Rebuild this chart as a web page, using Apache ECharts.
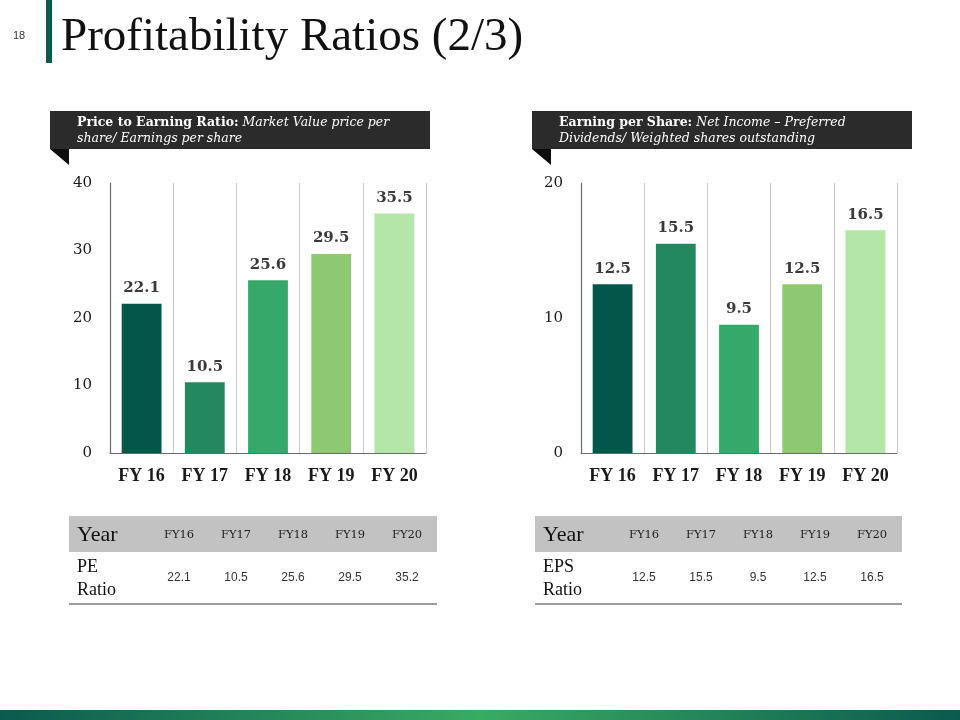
<!DOCTYPE html>
<html><head><meta charset="utf-8">
<script src="https://cdn.jsdelivr.net/npm/echarts@6/dist/echarts.min.js"></script>
<style>html,body{margin:0;padding:0;background:#fff}#c{width:960px;height:720px}</style>
</head><body><div id="c"></div>
<script>
const categories = ['FY 16','FY 17','FY 18','FY 19','FY 20'];
const tableYears = ['FY16','FY17','FY18','FY19','FY20'];
const peValues = [22.1, 10.5, 25.6, 29.5, 35.5];
const epsValues = [12.5, 15.5, 9.5, 12.5, 16.5];
const peTable = ['22.1','10.5','25.6','29.5','35.2'];
const epsTable = ['12.5','15.5','9.5','12.5','16.5'];
const barColors = ['#04564B','#238760','#36A96A','#8FC873','#B5E6A9'];
const peTicks = {min:0, max:40, interval:10};
const epsTicks = {min:0, max:20, interval:10};

const SERIF = '"Liberation Serif","DejaVu Serif",serif';
const WSERIF = '"DejaVu Serif","Liberation Serif",serif';
const SANS = '"Liberation Sans",Arial,sans-serif';

const chart = echarts.init(document.getElementById('c'));

function xAxis(gi){
  return {type:'category', gridIndex:gi, data:categories, boundaryGap:true,
    axisLine:{lineStyle:{color:'#6b6b6b',width:1.2}}, axisTick:{show:false},
    splitLine:{show:true, lineStyle:{color:'#c8c8c8',width:1}},
    axisLabel:{color:'#1a1a1a', fontFamily:SERIF, fontWeight:'bold', fontSize:18, margin:14}};
}
function yAxis(gi, t){
  return {type:'value', gridIndex:gi, min:t.min, max:t.max, interval:t.interval,
    axisLine:{show:true, lineStyle:{color:'#6b6b6b',width:1.2}}, axisTick:{show:false},
    splitLine:{show:false},
    axisLabel:{color:'#1a1a1a', fontFamily:WSERIF, fontSize:15, margin:18}};
}
function series(gi, vals){
  return {type:'bar', xAxisIndex:gi, yAxisIndex:gi, barWidth:'63%',
    data: vals.map((v,i)=>({value:v, itemStyle:{color:barColors[i]}})),
    label:{show:true, position:'top', distance:8, color:'#3a3a3a', fontFamily:WSERIF, fontWeight:'bold', fontSize:15}};
}

function header(x, y, w, bold, line1, line2){
  return [
    {type:'rect', shape:{x:x, y:y, width:w, height:38}, style:{fill:'#2b2b2b'}},
    {type:'polygon', shape:{points:[[x,y+38],[x+19,y+38],[x+19,y+54]]}, style:{fill:'#0d0d0d'}},
    {type:'text', x:x+27, y:y+4, style:{
      text:'{b|'+bold+'} {i|'+line1+'}\n{i|'+line2+'}',
      fontFamily:WSERIF, fontSize:12.5, lineHeight:16, fill:'#fff',
      rich:{b:{fontFamily:WSERIF, fontWeight:'bold', fontSize:12.5, fill:'#fff', lineHeight:16},
            i:{fontFamily:WSERIF, fontStyle:'italic', fontSize:12.5, fill:'#fff', lineHeight:16}}}}
  ];
}

function table(x, w, c0, rowLabel, vals){
  const els = [
    {type:'rect', shape:{x:x, y:516, width:w, height:36}, style:{fill:'#c2c2c2'}},
    {type:'text', x:x+8, y:535, style:{text:'Year', fontFamily:SERIF, fontSize:22, fill:'#111', verticalAlign:'middle'}},
    {type:'text', x:x+8, y:579, style:{text:rowLabel, fontFamily:SERIF, fontSize:18, lineHeight:23, fill:'#111', verticalAlign:'middle'}},
    {type:'line', shape:{x1:x, y1:604, x2:x+w, y2:604}, style:{stroke:'#7a7a7a', lineWidth:1.5}}
  ];
  tableYears.forEach((t,i)=>{
    els.push({type:'text', x:c0+i*57, y:535, style:{text:t, fontFamily:WSERIF, fontSize:11.5, fill:'#222', align:'center', verticalAlign:'middle'}});
    els.push({type:'text', x:c0+i*57, y:578, style:{text:vals[i], fontFamily:SANS, fontSize:12, fill:'#333', align:'center', verticalAlign:'middle'}});
  });
  return els;
}

const graphics = [
  {type:'rect', shape:{x:46, y:0, width:6, height:63}, style:{fill:'#0b5a4e'}},
  {type:'text', x:13, y:36, style:{text:'18', fontFamily:SANS, fontSize:11, fill:'#333', verticalAlign:'middle'}},
  {type:'text', x:61, y:38, style:{text:'Profitability Ratios (2/3)', fontFamily:SERIF, fontSize:47, fill:'#111', verticalAlign:'middle'}},
  {type:'rect', shape:{x:0, y:710, width:960, height:10}, style:{fill:new echarts.graphic.LinearGradient(0,0,1,0,[
    {offset:0,color:'#0b5a4e'},{offset:0.5,color:'#3aab63'},{offset:1,color:'#0b5a4e'}])}},
  ...header(50, 111, 380, 'Price to Earning Ratio:', 'Market Value price per', 'share/ Earnings per share'),
  ...header(532, 111, 380, 'Earning per Share:', 'Net Income \u2013 Preferred', 'Dividends/ Weighted shares outstanding'),
  ...table(69, 368, 179, 'PE\nRatio', peTable),
  ...table(535, 367, 644, 'EPS\nRatio', epsTable)
];

chart.setOption({
  animation:false,
  grid:[
    {left:110, right:534, top:183, bottom:267},
    {left:581, right:63, top:183, bottom:267}
  ],
  xAxis:[xAxis(0), xAxis(1)],
  yAxis:[yAxis(0, peTicks), yAxis(1, epsTicks)],
  series:[series(0, peValues), series(1, epsValues)],
  graphic: graphics
});
</script></body></html>
